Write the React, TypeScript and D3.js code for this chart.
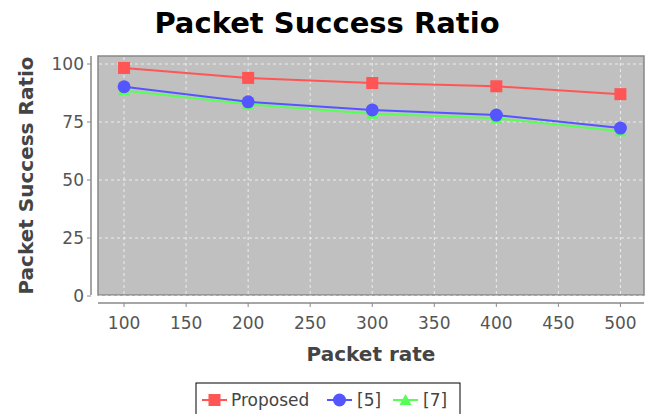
import React from "react";
import * as d3 from "d3";

const categories = [100, 200, 300, 400, 500];
const proposed = [98.3, 94.0, 91.8, 90.4, 87.0];
const ref5 = [90.2, 83.7, 80.2, 78.0, 72.4];
const ref7 = [88.6, 82.6, 78.6, 76.6, 71.0];
const xTicks = [100, 150, 200, 250, 300, 350, 400, 450, 500];
const yTicks = [0, 25, 50, 75, 100];

const W = 654, H = 414;
const plot = { left: 98, right: 644, top: 56, bottom: 295 };
const font = "'DejaVu Sans', sans-serif";

export default function App() {
  const x = d3.scaleLinear().domain([79, 519]).range([plot.left, plot.right]);
  const y = d3.scaleLinear().domain([0, 100]).range([296, 64]);
  const line = d3.line<number>().x((_, i) => x(categories[i])).y((d) => y(d));
  const series = [
    { name: "Proposed", data: proposed, color: "#ff5555", shape: "square" },
    { name: "[5]", data: ref5, color: "#5555ff", shape: "circle" },
    { name: "[7]", data: ref7, color: "#55ff55", shape: "triangle" },
  ];
  const marker = (shape: string, cx: number, cy: number, color: string, key: any) => {
    if (shape === "square") return <rect key={key} x={cx - 6} y={cy - 6} width={12} height={12} fill={color} />;
    if (shape === "circle") return <circle key={key} cx={cx} cy={cy} r={6.5} fill={color} />;
    return <path key={key} d={`M${cx},${cy - 6}L${cx + 6},${cy + 5}L${cx - 6},${cy + 5}Z`} fill={color} />;
  };
  const order = [2, 1, 0];
  const axisY = 303;
  const axisX = 91;
  return (
    <svg width={W} height={H} style={{ position: "absolute", left: 0, top: 0 }} fontFamily={font}>
      <rect width={W} height={H} fill="#fff" />
      <text x={327} y={33} textAnchor="middle" fontSize={29} fontWeight="bold" fill="#000">Packet Success Ratio</text>
      <rect x={plot.left} y={plot.top} width={plot.right - plot.left} height={plot.bottom - plot.top} fill="#c0c0c0" stroke="#888" strokeWidth={1.5} />
      {xTicks.map((t) => (
        <line key={"gx" + t} x1={x(t)} x2={x(t)} y1={plot.top + 1} y2={plot.bottom - 1} stroke="#fff" strokeOpacity={0.7} strokeDasharray="3,3" />
      ))}
      {yTicks.map((t) => (
        <line key={"gy" + t} x1={plot.left + 1} x2={plot.right - 1} y1={y(t)} y2={y(t)} stroke="#fff" strokeOpacity={0.7} strokeDasharray="3,3" />
      ))}
      {order.map((si) => {
        const s = series[si];
        return (
          <g key={s.name}>
            <path d={line(s.data) || ""} fill="none" stroke={s.color} strokeWidth={2} />
            {s.data.map((v, i) => marker(s.shape, x(categories[i]), y(v), s.color, i))}
          </g>
        );
      })}
      {/* y axis */}
      <line x1={axisX} x2={axisX} y1={plot.top} y2={plot.bottom} stroke="#888" strokeWidth={1.5} />
      {yTicks.map((t) => (
        <g key={"ty" + t}>
          <line x1={axisX - 4} x2={axisX} y1={y(t)} y2={y(t)} stroke="#888" />
          <text x={axisX - 7} y={y(t) + 6} textAnchor="end" fontSize={17} fill="#555">{t}</text>
        </g>
      ))}
      <text transform={`translate(33,${(plot.top + plot.bottom) / 2}) rotate(-90)`} textAnchor="middle" fontSize={20} fontWeight="bold" fill="#444">Packet Success Ratio</text>
      {/* x axis */}
      <line x1={plot.left} x2={plot.right} y1={axisY} y2={axisY} stroke="#888" strokeWidth={1.5} />
      {xTicks.map((t) => (
        <g key={"tx" + t}>
          <line x1={x(t)} x2={x(t)} y1={axisY} y2={axisY + 4} stroke="#888" />
          <text x={x(t)} y={axisY + 26} textAnchor="middle" fontSize={17} fill="#555">{t}</text>
        </g>
      ))}
      <text x={(plot.left + plot.right) / 2} y={361} textAnchor="middle" fontSize={20} fontWeight="bold" fill="#444">Packet rate</text>
      {/* legend */}
      <rect x={196} y={383} width={264} height={34} fill="#fff" stroke="#000" strokeWidth={1} />
      {(() => {
        const items = [
          { s: series[0], lx: 202, tx: 231 },
          { s: series[1], lx: 327, tx: 357 },
          { s: series[2], lx: 393, tx: 423 },
        ];
        return items.map(({ s, lx, tx }) => (
          <g key={"lg" + s.name}>
            <line x1={lx} x2={lx + 25} y1={400} y2={400} stroke={s.color} strokeWidth={2} />
            {marker(s.shape, lx + 12.5, 400, s.color, "m")}
            <text x={tx} y={406} fontSize={17} fill="#444">{s.name}</text>
          </g>
        ));
      })()}
    </svg>
  );
}
